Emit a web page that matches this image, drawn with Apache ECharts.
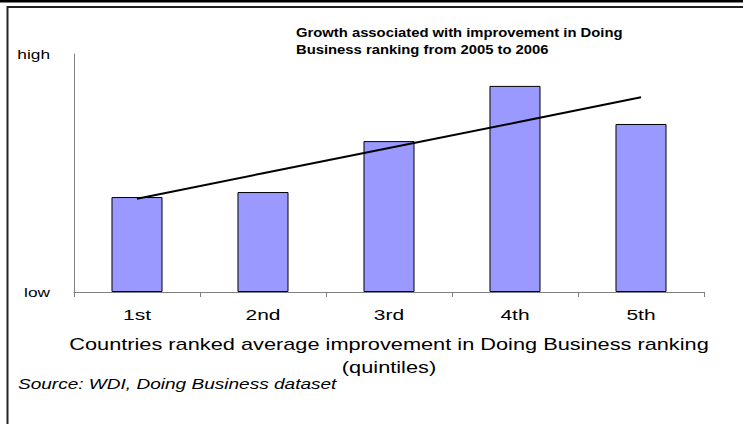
<!DOCTYPE html>
<html>
<head>
<meta charset="utf-8">
<script src="https://cdn.jsdelivr.net/npm/echarts@6/dist/echarts.min.js"></script>
<style>
html,body{margin:0;padding:0;background:#fff;}
#c{width:743px;height:424px;}
</style>
</head>
<body>
<div id="c"></div>
<script>
var categories = ['1st', '2nd', '3rd', '4th', '5th'];
var growthValues = [39.9, 42.0, 63.4, 86.6, 70.6];
var trendValues = [39.2, 49.9, 60.5, 71.1, 81.8];
var yTickLabels = ['low', 'high'];
var titleLines = ['Growth associated with improvement in Doing', 'Business ranking from 2005 to 2006'];
var xAxisNameLines = ['Countries ranked average improvement in Doing Business ranking', '(quintiles)'];
var sourceText = 'Source: WDI, Doing Business dataset';

var FONT = '"Liberation Sans", Arial, sans-serif';
var chart = echarts.init(document.getElementById('c'), null, {renderer: 'svg'});
chart.setOption({
  animation: false,
  backgroundColor: '#fff',
  title: {
    text: titleLines.join('\n'),
    left: 296,
    top: 24,
    padding: 0,
    textStyle: {fontFamily: FONT, fontSize: 13, fontWeight: 'bold', color: '#000', lineHeight: 17}
  },
  graphic: [
    {type: 'rect', shape: {x: 0, y: 0, width: 743, height: 2.5}, style: {fill: '#000'}},
    {type: 'polyline', shape: {points: [[7.5, 424], [7.5, 7], [743, 7]]}, style: {stroke: '#222', lineWidth: 2, fill: null}},
    {type: 'text', left: 18, top: 377, style: {text: sourceText, font: 'italic 14px "Liberation Sans", Arial', fill: '#000'}}
  ],
  grid: {left: 74, right: 39, top: 54, bottom: 132},
  xAxis: {
    type: 'category',
    data: categories,
    axisLine: {lineStyle: {color: '#808080', width: 1}},
    axisTick: {show: true, length: 5, lineStyle: {color: '#808080'}},
    axisLabel: {margin: 15, fontSize: 15, fontFamily: FONT, color: '#000'},
    name: xAxisNameLines.join('\n'),
    nameLocation: 'middle',
    nameGap: 40,
    nameTextStyle: {fontSize: 17, fontFamily: FONT, color: '#000', lineHeight: 23}
  },
  yAxis: {
    type: 'value',
    min: 0,
    max: 100,
    interval: 100,
    splitLine: {show: false},
    axisLine: {show: true, lineStyle: {color: '#808080', width: 1}},
    axisTick: {show: false},
    axisLabel: {
      margin: 24,
      fontSize: 13.5,
      fontFamily: FONT,
      color: '#000',
      formatter: function (v) { return v === 0 ? yTickLabels[0] : yTickLabels[1]; }
    }
  },
  series: [
    {
      type: 'bar',
      data: growthValues,
      barWidth: '40.5%',
      itemStyle: {color: '#9999FF', borderColor: '#000', borderWidth: 1}
    },
    {
      type: 'line',
      data: trendValues,
      symbol: 'none',
      lineStyle: {color: '#000', width: 2},
      z: 5
    }
  ]
});

// horizontal stretch of the text, to mimic the wide lettering of the original
function applyStretch() {
  var texts = document.querySelectorAll('#c svg text');
  texts.forEach(function (t) {
    if (t.getAttribute('data-stretched')) return;
    var s = (t.textContent || '').trim();
    var k = null;
    if (titleLines.indexOf(s) >= 0) k = 1.14;
    else if (categories.indexOf(s) >= 0) k = 1.4;
    else if (yTickLabels.indexOf(s) >= 0) k = 1.28;
    else if (xAxisNameLines.indexOf(s) >= 0) k = 1.28;
    else if (s === sourceText) k = 1.36;
    if (k === null) return;
    var x = parseFloat(t.getAttribute('x') || '0');
    var prev = t.getAttribute('transform') || '';
    t.setAttribute('transform', (prev ? prev + ' ' : '') +
      'translate(' + x + ',0) scale(' + k + ',1) translate(' + (-x) + ',0)');
    t.setAttribute('data-stretched', '1');
  });
}
applyStretch();
chart.on('finished', applyStretch);
</script>
</body>
</html>
